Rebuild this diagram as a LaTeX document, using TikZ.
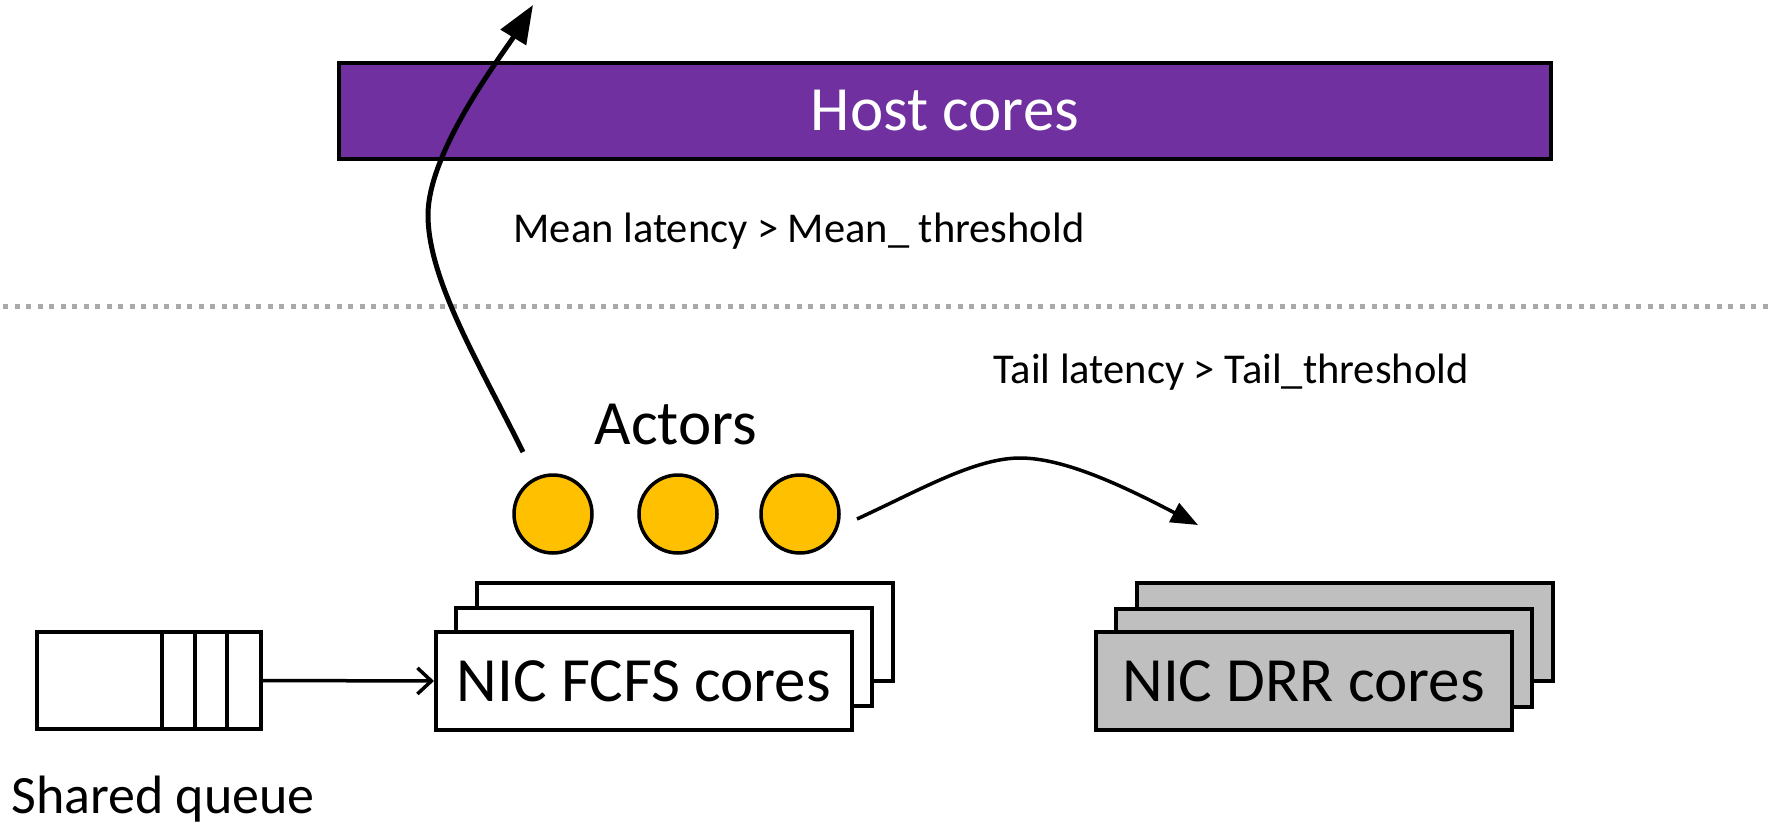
\documentclass[tikz,border=0pt]{standalone}
\usepackage{fontspec}
\setmainfont{Carlito}
\usetikzlibrary{arrows.meta}
\definecolor{hostpurple}{RGB}{112,48,160}
\definecolor{actorgold}{RGB}{255,192,0}
\definecolor{drrgray}{RGB}{191,191,191}
\definecolor{sepgray}{RGB}{170,170,170}
\begin{document}
\begin{tikzpicture}[x=1pt,y=-1pt,
  big/.style={font=\fontsize{63}{70}\selectfont},
  coretile/.style={draw, line width=4pt, minimum width=416pt, minimum height=98pt, inner sep=0pt},
  actor/.style={circle, draw, line width=3.5pt, fill=actorgold, minimum size=78pt, inner sep=0pt},
  lbl/.style={font=\fontsize{42.5}{48}\selectfont, anchor=base, inner sep=0pt},
  conn/.style={line width=3.5pt},
]
\useasboundingbox (0,0) rectangle (1771,826);
% separator
\draw[sepgray, line width=5pt, dash pattern=on 5pt off 6.5pt] (3,306) -- (1771,306);
% host cores
\node[draw, line width=4pt, fill=hostpurple, minimum width=1212pt, minimum height=96pt, inner sep=0pt, text=white, big] (host) at (945,111) {Host cores};
% labels
\node[lbl] (mean) at (799,243) {Mean latency > Mean\_ threshold};
\node[lbl] (tail) at (1231,383) {Tail latency > Tail\_threshold};
\node[big, anchor=base, inner sep=0pt] (actors) at (676,444) {Actors};
\node[font=\fontsize{54}{60}\selectfont, anchor=base, inner sep=0pt] (sqlabel) at (163,813) {Shared queue};
% actors
\node[actor] (a1) at (553,514) {};
\node[actor] (a2) at (678,514) {};
\node[actor] (a3) at (800,514) {};
% FCFS stack
\node[coretile, fill=white] (fcfs3) at (685,631.5) {};
\node[coretile, fill=white] (fcfs2) at (664,657) {};
\node[coretile, fill=white, big] (fcfs1) at (644,681) {NIC FCFS cores};
% DRR stack
\node[coretile, fill=drrgray] (drr3) at (1344.5,632) {};
\node[coretile, fill=drrgray] (drr2) at (1324,657.5) {};
\node[coretile, fill=drrgray, big] (drr1) at (1303.5,681) {NIC DRR cores};
% shared queue
\node[draw, line width=4pt, fill=white, minimum width=224pt, minimum height=97pt, inner sep=0pt] (q) at (149,680.5) {};
\foreach \dx in {127,160,192} \draw[line width=4pt] (q.north west) ++(\dx,0) -- ++(0,97);
\draw[conn, -{Straight Barb[length=14pt,width=26pt]}] (q.east) -- (fcfs1.west);
% mean latency arrow
\coordinate (meanstart) at (523,452);
\coordinate (meanend) at (533,5);
\draw[line width=5pt, -{Triangle[length=38pt,width=29pt]}] (meanstart) .. controls (480,365) and (428,280) .. (428,215) .. controls (428,150) and (505,51) .. (meanend);
% tail latency arrow
\coordinate (tailstart) at (857,519);
\coordinate (tailend) at (1198,525);
\draw[conn, -{Triangle[length=27pt,width=21pt]}] (tailstart) .. controls (920,490) and (975,458) .. (1020,458) .. controls (1065,458) and (1125,487) .. (tailend);
\end{tikzpicture}
\end{document}
